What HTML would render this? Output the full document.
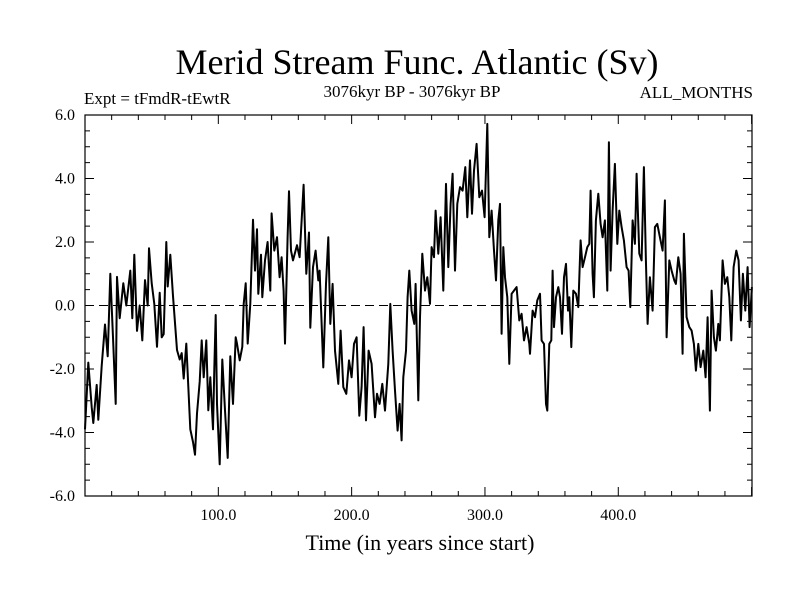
<!DOCTYPE html>
<html><head><meta charset="utf-8"><style>
body{margin:0;background:#fff}
svg text{font-family:"Liberation Serif",serif;fill:#000}
</style></head><body>
<svg id="chart" width="800" height="600" xmlns="http://www.w3.org/2000/svg">
<rect width="800" height="600" fill="#fff"/>
<text x="417" y="74" font-size="36" text-anchor="middle">Merid Stream Func. Atlantic (Sv)</text>
<text x="84" y="104" font-size="17">Expt = tFmdR-tEwtR</text>
<text x="412" y="97" font-size="17" text-anchor="middle">3076kyr BP - 3076kyr BP</text>
<text x="753" y="98" font-size="17" text-anchor="end">ALL_MONTHS</text>
<text x="420" y="550" font-size="22" text-anchor="middle">Time (in years since start)</text>
<g id="axes"></g>
<g id="plot"></g>
</svg>
<script>
const yearsA=[0,2.5,5,6.25,8.75,10,12.5,15,17,19,21,23,24,26,28.75,31,34,35.5,37,39,41,43,45,47,48,50,52,54,56,57.5,59,61,62,64,66,69,71,72.5,74,76,79,81,82.5,84,86,87.5,89,91,92.5,94,96,97,98,99,101,103,105,107,109,111,113,114,116,118,119,120.5,122,124,126,127.5,129,130,132,133,135,137,139,140,142,144,146,147.5,149,150,152,153,154.5,156,159,161,164,166,168,169,171,173,175];
const valuesA=[-3.9,-1.8,-3.2,-3.7,-2.5,-3.6,-1.9,-0.6,-1.6,1.0,-1.0,-3.1,0.9,-0.4,0.7,0,1.1,-0.4,1.6,-0.8,0,-1.1,0.8,0,1.8,0.7,0.05,-1.3,0.4,-1.0,-0.9,2.0,0.6,1.6,0.3,-1.4,-1.7,-1.5,-2.3,-1.2,-3.9,-4.3,-4.7,-3.4,-2.4,-1.1,-2.26,-1.1,-3.3,-2.26,-3.9,-2.0,-0.3,-3.1,-5.0,-1.7,-3.3,-4.8,-1.6,-3.1,-1.0,-1.2,-1.73,-1.3,0.05,0.7,-1.2,0.05,2.7,1.1,2.4,0.37,1.6,0.26,1.42,2.0,0.47,2.9,1.73,2.15,0.89,1.52,0.47,-1.2,2.15,3.6,1.73,1.42,1.9,1.52,3.8,1.0,2.3,-0.7,1.21,1.73,0.79];
const yearsB=[176,178.75,180.75,182.5,184,185.75,187.5,190,191.75,193.75,196,198,200,201.75,203.75,205.75,207.5,209,210.75,212.75,215,217.5,219,221,223,225,227.5,229,230.75,232.5,234.5,236,237.5,238.75,240.75,242,243.25,245,247,248,250,251.25,253,255,256.75,258.75,260,261.75,263,265,266.75,268.75,270.75,272.5,274.25,275.75,277.5,279.25,281.25,283.25,285.25,286.75,288.75,290.25,291.75,293.75,295.75,297.75,299.75,301.75,303.25,305,306.75,308.25,310,311.25,312.5,313.75,315,316.75,318.25,320,321.75,323.75,325.75,327.5,329.25,331.25,333.25];
const valuesB=[1.1,-1.95,0.68,2.15,-0.58,0.68,-1.42,-2.47,-0.79,-2.57,-2.78,-1.73,-2.26,-1.21,-1.0,-3.47,-2.57,-0.68,-3.62,-1.42,-1.84,-3.52,-2.78,-3.1,-2.47,-3.31,-1.84,0.05,-1.42,-2.68,-3.94,-3.1,-4.25,-2.26,-1.42,0.26,1.1,-0.16,-0.58,0.68,-2.99,-0.37,1.63,0.47,0.89,0.05,1.84,1.52,2.99,1.63,2.78,0.47,3.83,1.21,3.2,4.15,1.1,3.2,3.73,3.62,4.36,2.78,4.57,2.89,4.25,5.09,3.41,3.62,2.78,5.72,2.15,2.99,1.73,0.79,2.68,3.2,-0.89,1.84,0.89,0.26,-1.84,0.37,0.47,0.58,-0.47,-0.26,-1.1,-0.68,-1.21];
const yearsC=[333.75,335.75,337.5,339.25,341.25,342.5,344.25,345.75,346.75,348.25,349.75,350.75,351.75,353.25,355,356.25,357.75,359.25,360.75,362.25,363.25,364.75,366.25,368.25,370,371.75,373.25,375,376.75,378.25,379.25,380.75,381.75,383.25,385,386.75,388.25,390,391.75,393,394.25,395.75,397.5,399.25,400.75,402.5,404.25,406.25,407.75,409,410.75,412.5,413.75,415.75,417.5,419.25,420.75,422,423.75,425.75,427.5,429.25,431.25,433.25,435,436.25,438.25,440,442,443.25,445,446.75,448.25,449.25,451.25,453.25,455,456.75,458.25,460,461.75,463.75,465.5,467,468.75,470,471.75,473.25,475,476.25,478.25,480,481.75,483.25,484.75,486.5,488.5,490.25,492,493.5,495.25,497,498.5,500.25];
const valuesC=[-1.52,-0.16,-0.37,0.16,0.37,-1.1,-1.21,-3.1,-3.31,-1.21,-1.1,1.1,-0.68,0.26,0.58,0.26,-0.89,0.89,1.31,-0.16,0.26,-1.31,0.47,0.37,-0.05,2.05,1.21,1.52,1.84,1.94,3.62,1.0,0.26,2.68,3.52,2.57,2.15,2.68,0.47,5.14,1.1,2.99,4.46,1.94,2.99,2.47,2.05,1.21,1.1,-0.05,2.68,1.94,4.15,1.63,1.42,4.36,1.42,-0.58,0.89,-0.16,2.47,2.57,2.15,1.73,3.31,-1.0,1.42,1.1,0.79,0.68,1.52,1.0,-1.52,2.26,-0.37,-0.68,-0.79,-1.21,-2.05,-1.21,-1.94,-1.42,-2.26,-0.37,-3.31,0.47,-1.0,-1.42,-0.58,-1.1,1.42,0.68,0.89,0.26,-1.1,1.21,1.73,1.42,-0.47,1.0,-0.16,1.21,-0.68,0.58];
const xTicks=[100,200,300,400];
const xTickLabels=["100.0","200.0","300.0","400.0"];
const yTicks=[-6,-4,-2,0,2,4,6];
const yTickLabels=["-6.0","-4.0","-2.0","0.0","2.0","4.0","6.0"];

const X0=85,X1=752,Y0=115,Y1=496,XMIN=0,XMAX=500.3,YMIN=-6,YMAX=6;
const xs=t=>X0+(t-XMIN)/(XMAX-XMIN)*(X1-X0);
const ys=v=>Y1-(v-YMIN)/(YMAX-YMIN)*(Y1-Y0);
const NS="http://www.w3.org/2000/svg";
const axes=document.getElementById('axes'), plot=document.getElementById('plot');
function mk(tag,attrs,parent){const e=document.createElementNS(NS,tag);for(const k in attrs)e.setAttribute(k,attrs[k]);parent.appendChild(e);return e;}

const frame=mk('rect',{x:X0,y:Y0,width:X1-X0,height:Y1-Y0,fill:'none',stroke:'#000','stroke-width':1.2},axes);


const zl=mk('line',{x1:X0,x2:X1,y1:ys(0),y2:ys(0),stroke:'#000','stroke-width':1,'stroke-dasharray':'9,5'},axes);



for(let t=20;t<XMAX;t+=20){
  const major=t%100===0, L=major?9:5;
  mk('line',{x1:xs(t),x2:xs(t),y1:Y1,y2:Y1-L,stroke:'#000'},axes);
  mk('line',{x1:xs(t),x2:xs(t),y1:Y0,y2:Y0+L,stroke:'#000'},axes);
}
for(let v=-5.5;v<6;v+=0.5){
  const major=Math.abs(v%2)<1e-9, L=major?9:5;
  mk('line',{x1:X0,x2:X0+L,y1:ys(v),y2:ys(v),stroke:'#000'},axes);
  mk('line',{x1:X1,x2:X1-L,y1:ys(v),y2:ys(v),stroke:'#000'},axes);
}
xTicks.forEach((t,i)=>{
  const tx=mk('text',{x:xs(t),y:Y1+24,'font-size':16,'text-anchor':'middle'},axes);
  tx.textContent=xTickLabels[i];
  
  
});
yTicks.forEach((v,i)=>{
  const tx=mk('text',{x:X0-10,y:ys(v)+5,'font-size':16,'text-anchor':'end'},axes);
  tx.textContent=yTickLabels[i];
  
  
});

const years=yearsA.concat(yearsB,yearsC);
const values=valuesA.concat(valuesB,valuesC);
const n=Math.min(years.length,values.length);
let d='';
for(let i=0;i<n;i++){d+=(i?'L':'M')+xs(years[i]).toFixed(1)+','+ys(values[i]).toFixed(1);}
const line=mk('path',{d:d,fill:'none',stroke:'#000','stroke-width':2,'stroke-linejoin':'round'},plot);


</script>
</body></html>
